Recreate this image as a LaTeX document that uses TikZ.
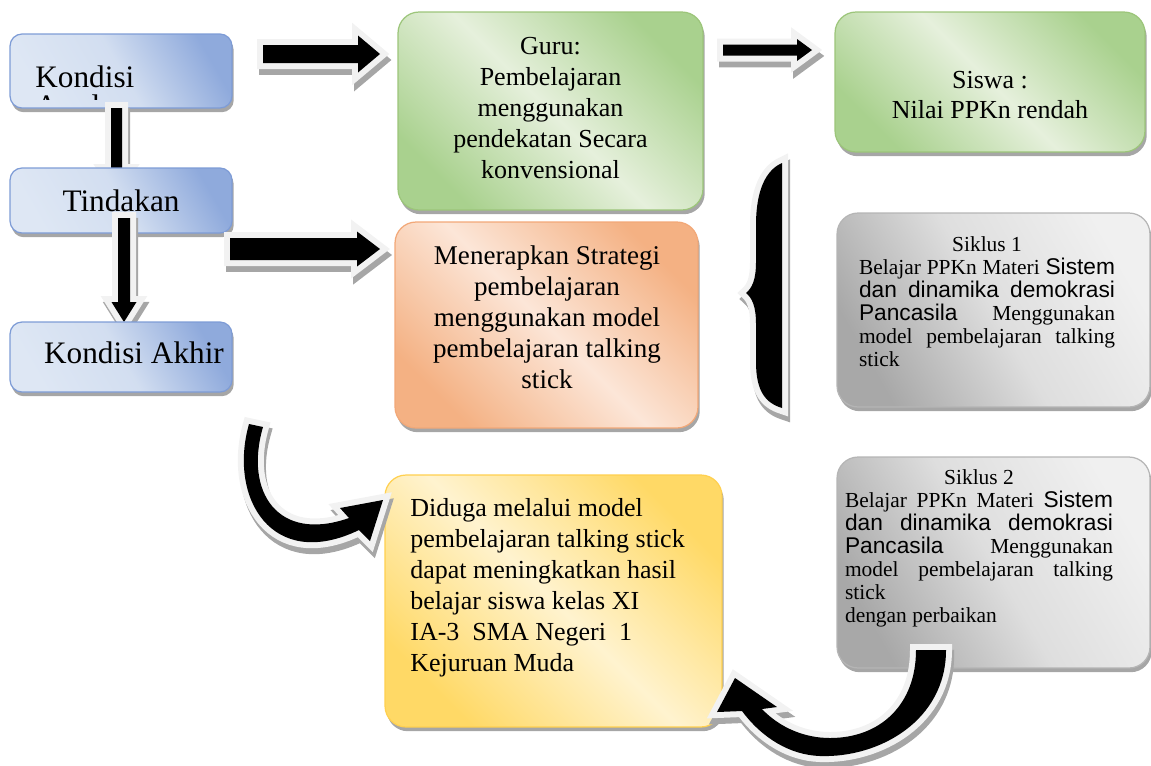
\documentclass[tikz,border=0pt]{standalone}
\usepackage{fontspec}
\setmainfont{Liberation Serif}
\newfontfamily\arialf[Scale=1.06]{Liberation Sans}
\usetikzlibrary{shadows}

\definecolor{bluedk}{HTML}{8FAADC}
\definecolor{bluelt}{HTML}{DEE7F4}
\definecolor{blueln}{HTML}{7E9CD6}
\definecolor{greendk}{HTML}{A9D18E}
\definecolor{greenlt}{HTML}{E6F0DC}
\definecolor{greenln}{HTML}{9CC57A}
\definecolor{orangedk}{HTML}{F4B183}
\definecolor{orangelt}{HTML}{FCE6D8}
\definecolor{orangeln}{HTML}{F2A878}
\definecolor{yellowdk}{HTML}{FFD966}
\definecolor{yellowlt}{HTML}{FFF3CF}
\definecolor{yellowln}{HTML}{FFD04F}
\definecolor{graydk}{HTML}{A8A8A8}
\definecolor{graylt}{HTML}{F0F0F0}
\definecolor{grayln}{HTML}{B5B5B5}
\definecolor{arrowrim}{HTML}{F2F2F2}
\definecolor{shadowgray}{HTML}{A6A6A6}

\tikzset{
  box/.style={rounded corners=0.42cm, line width=0.7pt,
              drop shadow={shadow xshift=1pt, shadow yshift=-2.4pt,
                           fill=shadowgray, opacity=1}},
  shadeit/.style 2 args={top color=#1, bottom color=#1, middle color=#2,
                         shading angle=-45},
  bluebox/.style={box, rounded corners=0.24cm, draw=blueln,
                  top color=bluedk, bottom color=bluelt,
                  middle color=bluelt!85!bluedk, shading angle=-60,
                  minimum width=4.44cm},
  greenbox/.style={box, draw=greenln, shadeit={greendk}{greenlt}},
  orangebox/.style={box, draw=orangeln, shadeit={orangedk}{orangelt}},
  yellowbox/.style={box, draw=yellowln, shadeit={yellowdk}{yellowlt}},
  graybox/.style={box, draw=grayln, top color=graydk, bottom color=graylt,
                  middle color=graylt!75!graydk, shading angle=120,
                  minimum width=6.26cm},
  bigtxt/.style={font=\fontsize{17.8}{20}\selectfont, inner sep=0pt},
  midtxt/.style={font=\fontsize{14.8}{17.6}\selectfont, inner sep=0pt,
                 align=center},
  smalltxt/.style={font=\fontsize{12.2}{13.1}\selectfont, inner sep=0pt,
                   align=justify},
  blockarr/.style={fill=black, preaction={draw=arrowrim, line width=0.24cm,
                   line join=miter}},
  arrshadow/.style={fill=shadowgray, draw=shadowgray, line width=0.24cm,
                    line join=miter},
}

% block arrow: start, angle, length, shaft half, head half, head length
\newcommand{\blockarrow}[6]{%
  \begin{scope}[shift={(#1)}, xshift=1.2pt, yshift=-3.4pt, rotate=#2]
    \path[arrshadow] (0,-#4) -- ({#3-#6},-#4) -- ({#3-#6},-#5) -- (#3,0)
      -- ({#3-#6},#5) -- ({#3-#6},#4) -- (0,#4) -- cycle;
  \end{scope}
  \begin{scope}[shift={(#1)}, rotate=#2]
    \path[blockarr] (0,-#4) -- ({#3-#6},-#4) -- ({#3-#6},-#5) -- (#3,0)
      -- ({#3-#6},#5) -- ({#3-#6},#4) -- (0,#4) -- cycle;
  \end{scope}}

\newcommand{\bracepath}{(782,163) .. controls (766,170) and (756,190) .. (756,225)
  -- (756,262) .. controls (756,280) and (752,288) .. (746,293)
  .. controls (752,298) and (756,306) .. (756,324) -- (756,362)
  .. controls (756,392) and (766,403) .. (782,408) -- cycle}
\newcommand{\curvepathA}{(249,424) .. controls (228,498) and (272,572) .. (359,530)
  -- (370,541) -- (383,500) -- (340,508) -- (349,518)
  .. controls (278,543) and (244,492) .. (263,427) -- cycle}
\newcommand{\curvepathB}{(946,650) .. controls (946,720) and (880,758) .. (820,756)
  .. controls (790,755) and (762,738) .. (742,711) -- (717,712) -- (735,678)
  -- (777,707) -- (762,709) .. controls (780,728) and (805,738) .. (830,738)
  .. controls (880,738) and (916,705) .. (916,650) -- cycle}

\begin{document}
\begin{tikzpicture}[x=0.02cm, y=-0.02cm]
  \useasboundingbox (0,0) rectangle (1151,765);

  % left column
  \node[bluebox, minimum height=1.48cm] (awal) at (121,71) {};
  \begin{scope}
    \clip (12,36) rectangle (230,99);
    \node[bigtxt, anchor=base west] (awal1) at (35,87) {Kondisi};
    \node[bigtxt, anchor=base west] (awal2) at (35,116.5) {Awal};
  \end{scope}
  \coordinate (v1s) at (116.5,108);
  \blockarrow{v1s}{-90}{80}{5.5}{12}{18}
  \node[bluebox, minimum height=1.3cm, bigtxt] (tind) at (121,200.5) {Tindakan};
  \coordinate (v2s) at (124,218);
  \blockarrow{v2s}{-90}{104}{6}{12.5}{20}
  \node[bluebox, minimum height=1.4cm] (akhir) at (121,357) {};
  \node[bigtxt, anchor=base] (akhirt) at (134,363) {Kondisi Akhir};

  % middle and right boxes
  \node[greenbox, minimum width=6.1cm, minimum height=3.96cm] (guru) at (550.5,111) {};
  \node[midtxt] (gurut) at (550.5,108) {Guru:\\Pembelajaran\\menggunakan\\
    pendekatan Secara\\konvensional};
  \node[greenbox, minimum width=6.2cm, minimum height=2.8cm] (siswa) at (990,82) {};
  \node[midtxt] (siswat) at (990,95) {Siswa :\\Nilai PPKn rendah};
  \node[orangebox, minimum width=6.06cm, minimum height=4.12cm] (strat) at (546.5,325) {};
  \node[midtxt, font=\fontsize{15.4}{17.6}\selectfont] (stratt) at (547,317)
    {Menerapkan Strategi\\pembelajaran\\menggunakan model\\pembelajaran talking\\stick};
  \node[yellowbox, minimum width=6.74cm, minimum height=5.04cm] (dug) at (553.5,601) {};
  \node[midtxt, align=left, anchor=west] (dugt) at (410,588) {Diduga melalui model\\
    pembelajaran talking stick\\dapat meningkatkan hasil\\belajar siswa kelas XI\\
    IA-3\ \ SMA Negeri\ \ 1\\Kejuruan Muda};
  \node[graybox, minimum height=3.88cm] (sik1) at (993.5,310) {};
  \node[smalltxt, text width=5.12cm] (sik1t) at (987,302) {{\centering Siklus 1\par}%
    Belajar PPKn Materi {\arialf Sistem}\linebreak
    {\arialf dan dinamika demokrasi}\linebreak
    {\arialf Pancasila}\ \ Menggunakan\linebreak
    model pembelajaran talking\linebreak stick};
  \node[graybox, minimum height=4.22cm] (sik2) at (993.5,562.5) {};
  \node[smalltxt, text width=5.36cm] (sik2t) at (979,548) {{\centering Siklus 2\par}%
    Belajar PPKn Materi {\arialf Sistem}\linebreak
    {\arialf dan dinamika demokrasi}\linebreak
    {\arialf Pancasila} Menggunakan\linebreak
    model pembelajaran talking\linebreak stick\newline dengan perbaikan};

  % block arrows
  \coordinate (a1s) at (263,54);
  \blockarrow{a1s}{0}{117}{9}{18.5}{22}
  \coordinate (a2s) at (723,50);
  \blockarrow{a2s}{0}{89}{5.5}{11}{15}
  \coordinate (a3s) at (230,249);
  \blockarrow{a3s}{0}{150}{11}{17.5}{23}

  % brace and curved arrows
  \path[arrshadow, xshift=1.2pt, yshift=-3.4pt] \bracepath;
  \path[blockarr] \bracepath;
  \path[arrshadow, xshift=1.2pt, yshift=-3.4pt] \curvepathA;
  \path[blockarr] \curvepathA;
  \path[arrshadow, xshift=1.2pt, yshift=-3.4pt] \curvepathB;
  \path[blockarr] \curvepathB;
\end{tikzpicture}
\end{document}
